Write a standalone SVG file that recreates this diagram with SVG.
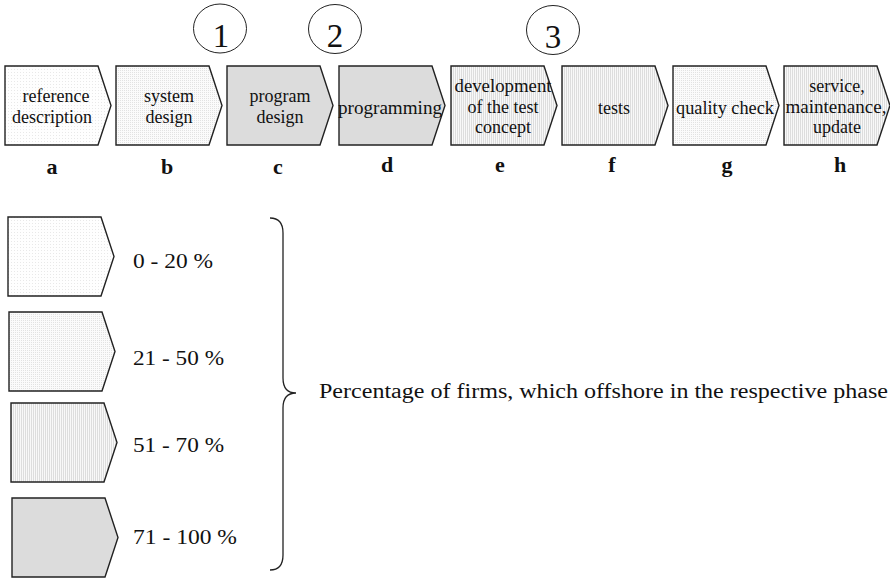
<svg xmlns="http://www.w3.org/2000/svg" width="890" height="579" viewBox="0 0 890 579">
<defs>
<pattern id="p1" width="3" height="3" patternUnits="userSpaceOnUse"><rect width="3" height="3" fill="#fefefe"/><rect width="1" height="1" fill="#e8e8e8"/></pattern>
<pattern id="p2" width="2" height="2" patternUnits="userSpaceOnUse"><rect width="2" height="2" fill="#fbfbfb"/><rect width="1" height="1" fill="#e2e2e2"/></pattern>
<pattern id="p3" width="2" height="2" patternUnits="userSpaceOnUse"><rect width="2" height="2" fill="#f8f8f8"/><rect width="1" height="2" fill="#dddddd"/></pattern>
<path id="shape" d="M0,0 H93 L106,39.5 L93,79 H0 Z"/>
</defs>
<style>
.box{stroke:#222;stroke-width:1.4;stroke-linejoin:miter}
.f1{fill:url(#p1)}.f2{fill:url(#p2)}.f3{fill:url(#p3)}.f4{fill:#dcdcdc}
.t{font-family:"Liberation Serif","Times New Roman",serif;font-size:18px;fill:#111;text-anchor:middle}
.lbl{font-family:"Liberation Serif","Times New Roman",serif;font-size:22px;font-weight:bold;fill:#111;text-anchor:middle}
.num{font-family:"Liberation Serif","Times New Roman",serif;font-size:33px;fill:#111;text-anchor:middle}
.lg{font-family:"Liberation Serif","Times New Roman",serif;font-size:20px;fill:#111}
.circ{fill:none;stroke:#222;stroke-width:1}
</style>

<g id="marker1"><ellipse class="circ" cx="220" cy="28.5" rx="26.5" ry="24.5"/><text class="num" x="221" y="47">1</text></g>
<g id="marker2"><ellipse class="circ" cx="335" cy="29" rx="26.5" ry="24.5"/><text class="num" x="335" y="47">2</text></g>
<g id="marker3"><ellipse class="circ" cx="553" cy="30" rx="26.5" ry="24.5"/><text class="num" x="553" y="48">3</text></g>

<g id="phase-a"><use href="#shape" class="box f1" x="5" y="66"/><text class="t" x="56" y="102">reference</text><text class="t" x="52" y="123">description</text><text class="lbl" x="52" y="174">a</text></g>
<g id="phase-b"><use href="#shape" class="box f2" x="116" y="66"/><text class="t" x="169" y="102">system</text><text class="t" x="169" y="123">design</text><text class="lbl" x="167" y="174">b</text></g>
<g id="phase-c"><use href="#shape" class="box f4" x="227" y="66"/><text class="t" x="280" y="102">program</text><text class="t" x="280" y="123">design</text><text class="lbl" x="278" y="174">c</text></g>
<g id="phase-d"><use href="#shape" class="box f4" x="339" y="66"/><text class="t" x="390" y="114" textLength="104" lengthAdjust="spacingAndGlyphs">programming</text><text class="lbl" x="387" y="172">d</text></g>
<g id="phase-e"><use href="#shape" class="box f3" x="451" y="66"/><text class="t" x="503" y="92" textLength="97" lengthAdjust="spacingAndGlyphs">development</text><text class="t" x="503" y="113">of the test</text><text class="t" x="503" y="133">concept</text><text class="lbl" x="500" y="172">e</text></g>
<g id="phase-f"><use href="#shape" class="box f3" x="562" y="66"/><text class="t" x="614" y="114">tests</text><text class="lbl" x="612" y="172">f</text></g>
<g id="phase-g"><use href="#shape" class="box f2" x="673" y="66"/><text class="t" x="725" y="114" textLength="98" lengthAdjust="spacingAndGlyphs">quality check</text><text class="lbl" x="727" y="172">g</text></g>
<g id="phase-h"><use href="#shape" class="box f3" x="784" y="66"/><text class="t" x="837" y="92">service,</text><text class="t" x="836" y="113" textLength="101" lengthAdjust="spacingAndGlyphs">maintenance,</text><text class="t" x="837" y="133">update</text><text class="lbl" x="840" y="172">h</text></g>

<g id="legend-1"><use href="#shape" class="box f1" x="8" y="217"/><text class="lg" x="133" y="268" textLength="80" lengthAdjust="spacingAndGlyphs">0 - 20 %</text></g>
<g id="legend-2"><use href="#shape" class="box f2" x="9" y="312"/><text class="lg" x="133" y="365" textLength="91" lengthAdjust="spacingAndGlyphs">21 - 50 %</text></g>
<g id="legend-3"><use href="#shape" class="box f3" x="11" y="403"/><text class="lg" x="133" y="452" textLength="91" lengthAdjust="spacingAndGlyphs">51 - 70 %</text></g>
<g id="legend-4"><use href="#shape" class="box f4" x="12" y="498"/><text class="lg" x="133" y="544" textLength="104" lengthAdjust="spacingAndGlyphs">71 - 100 %</text></g>

<g id="connectors">
<path d="M270,218 Q283,218 283,233 L283,378 Q283,393 296,393 Q283,393 283,408 L283,555 Q283,570 270,570" fill="none" stroke="#222" stroke-width="1.3"/>
</g>
<g id="brace-label"><text class="lg" x="319" y="398" textLength="569" lengthAdjust="spacingAndGlyphs">Percentage of firms, which offshore in the respective phase</text></g>
</svg>
